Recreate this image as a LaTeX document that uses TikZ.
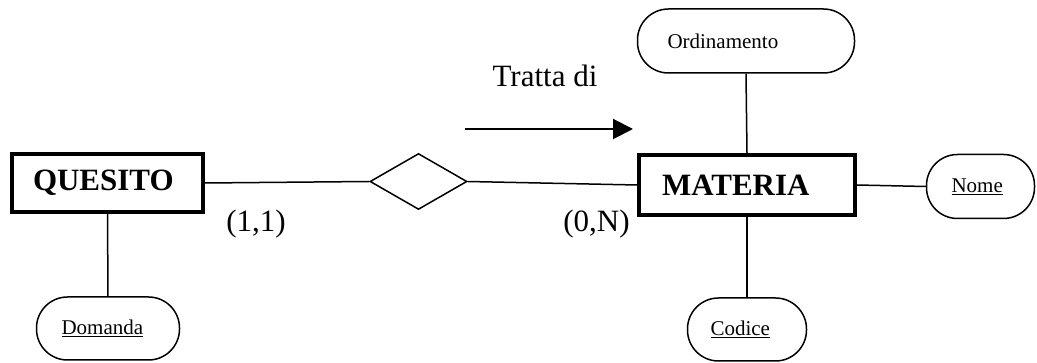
\documentclass[tikz,border=0pt]{standalone}
\usepackage{fontspec}
\setmainfont{Liberation Serif}
\usetikzlibrary{shapes.geometric,arrows.meta}
\begin{document}
\begin{tikzpicture}[x=1pt,y=-1pt,
  entity/.style={draw, line width=4pt, rectangle, inner ysep=0pt, align=left,
    font=\fontsize{31}{36}\selectfont\bfseries},
  attr/.style={draw, line width=1.5pt, rounded corners=31pt, inner ysep=0pt, align=left,
    font=\fontsize{21}{25}\selectfont},
  rel/.style={draw, diamond, line width=1.5pt, inner sep=0pt, minimum width=97pt, minimum height=56pt},
  conn/.style={line width=1.5pt},
  lbl/.style={font=\fontsize{31}{36}\selectfont, inner sep=0pt, anchor=base}]
\useasboundingbox (0,0) rectangle (1037,363);
% entities
\node[entity, inner xsep=21pt, text width=149pt, minimum height=58pt] (quesito) at (107.5,183) {QUESITO};
\node[entity, inner xsep=23pt, text width=170pt, minimum height=60pt] (materia) at (747,185) {MATERIA};
% relationship
\node[rel] (tratta) at (418.5,181.5) {};
% attributes
\node[attr, inner xsep=30pt, text width=157pt, minimum height=64pt] (ordinamento) at (746,41) {Ordinamento};
\node[attr, inner xsep=25pt, text width=58pt, minimum height=64pt] (nome) at (980.5,186.5) {\underline{Nome}};
\node[attr, inner xsep=25pt, text width=93pt, minimum height=63pt] (domanda) at (108,328.5) {\underline{Domanda}};
\node[attr, inner xsep=23pt, text width=73pt, minimum height=63pt] (codice) at (747,329.5) {\underline{Codice}};
% connectors
\draw[conn] (quesito.east) -- (tratta.west);
\draw[conn] (tratta.east) -- (materia.west);
\draw[conn] (materia.north) -- (ordinamento.south);
\draw[conn] (materia.south) -- (codice.north);
\draw[conn] (materia.east) -- (nome.west);
\draw[conn] (quesito.south) -- (domanda.north);
% labels
\node[lbl] (trattalbl) at (545,87) {Tratta di};
\node[lbl] (card1) at (256,232) {(1,1)};
\node[lbl] (card2) at (596.5,232) {(0,N)};
% direction arrow
\coordinate (a1) at (465,129);
\coordinate (a2) at (633,129);
\draw[line width=2pt, -{Triangle[length=20pt,width=20pt]}] (a1) -- (a2);
\end{tikzpicture}
\end{document}
